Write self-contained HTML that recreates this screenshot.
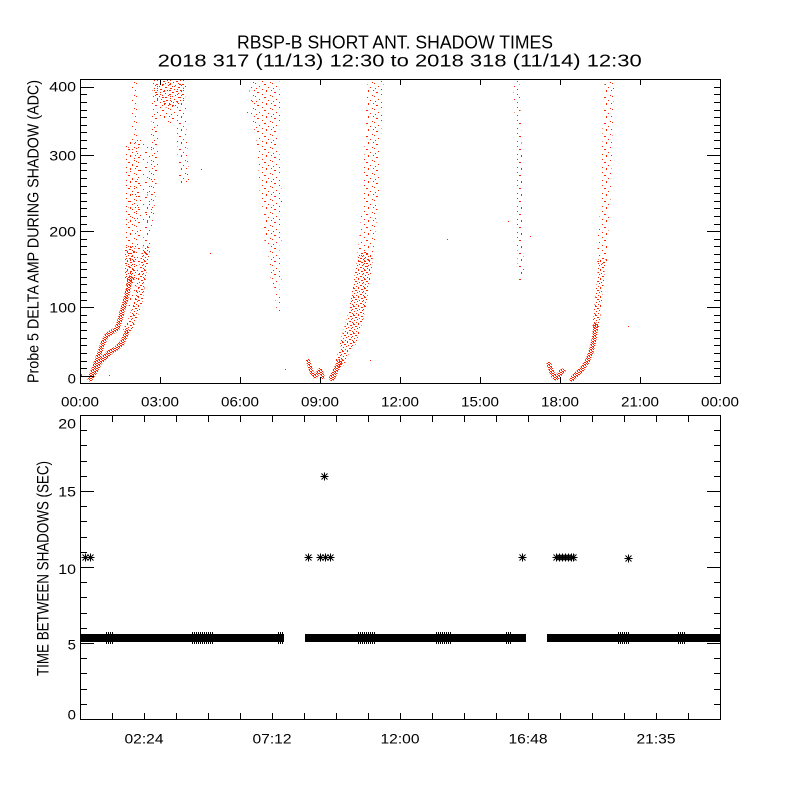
<!DOCTYPE html>
<html><head><meta charset="utf-8">
<style>
html,body{margin:0;padding:0;background:#fff;}
svg{display:block;}
text{font-family:"Liberation Sans",sans-serif;fill:#000;}
</style></head><body>
<svg width="800" height="800" viewBox="0 0 800 800" xmlns="http://www.w3.org/2000/svg" xmlns:xlink="http://www.w3.org/1999/xlink">
<defs>
  <pattern id="pd" width="6" height="5" patternUnits="userSpaceOnUse">
    <path shape-rendering="crispEdges" fill="#ff2400" d="M0 0h2v1h-2z M3 0h1v1h-1z M1 1h1v1h-1z M4 1h2v1h-2z M2 2h2v1h-2z M5 2h1v1h-1z M0 3h2v1h-2z M4 3h1v1h-1z M2 4h2v1h-2z M5 4h1v1h-1z"/>
  </pattern>
  <pattern id="pm" width="11" height="9" patternUnits="userSpaceOnUse">
    <path shape-rendering="crispEdges" fill="#ff2400" d="M1 0h2v1h-2z M6 0h1v1h-1z M9 1h2v1h-2z M3 2h2v1h-2z M0 3h1v1h-1z M7 3h1v1h-1z M5 4h1v1h-1z M10 4h1v1h-1z M2 5h1v1h-1z M8 6h2v1h-2z M0 7h1v1h-1z M4 7h1v1h-1z M1 8h1v1h-1z M6 8h1v1h-1z"/>
  </pattern>
  <pattern id="pm2" width="13" height="10" patternUnits="userSpaceOnUse">
    <path shape-rendering="crispEdges" fill="#ff2400" d="M1 0h1v1h-1z M7 1h2v1h-2z M11 0h1v1h-1z M4 2h1v1h-1z M0 4h2v1h-2z M9 3h1v1h-1z M6 5h1v1h-1z M12 5h1v1h-1z M3 6h1v1h-1z M9 7h2v1h-2z M1 8h1v1h-1z M5 9h1v1h-1z"/>
  </pattern>
  <pattern id="ps" width="17" height="13" patternUnits="userSpaceOnUse">
    <path shape-rendering="crispEdges" fill="#ff2400" d="M2 1h2v1h-2z M11 0h1v1h-1z M7 3h1v1h-1z M15 4h1v1h-1z M0 5h1v1h-1z M9 6h2v1h-2z M4 8h1v1h-1z M13 9h1v1h-1z M1 10h1v1h-1z M7 11h1v1h-1z M16 12h1v1h-1z M11 12h1v1h-1z"/>
  </pattern>
  <pattern id="pvs" width="19" height="15" patternUnits="userSpaceOnUse">
    <path shape-rendering="crispEdges" fill="#ff2400" d="M3 1h1v1h-1z M12 2h2v1h-2z M7 5h1v1h-1z M16 6h1v1h-1z M1 8h1v1h-1z M10 9h1v1h-1z M5 12h1v1h-1z M14 12h1v1h-1z M18 14h1v1h-1z"/>
  </pattern>
  <pattern id="pstripe" width="2" height="2" patternUnits="userSpaceOnUse">
    <rect x="0" y="0" width="1" height="2" fill="#000" shape-rendering="crispEdges"/>
  </pattern>
  <clipPath id="clipTop"><rect x="81" y="80" width="639" height="303"/></clipPath>
  <path id="ast" d="M-4 0H4M0 -4V4M-3 -3L3 3M-3 3L3 -3" fill="none" stroke="#000" stroke-width="1"/>
</defs>
<rect x="0" y="0" width="800" height="800" fill="#fff"/>

<!-- Titles -->
<text x="237" y="48.3" font-size="18" textLength="316" lengthAdjust="spacingAndGlyphs">RBSP-B SHORT ANT. SHADOW TIMES</text>
<text x="157.7" y="66.7" font-size="17.5" textLength="484" lengthAdjust="spacingAndGlyphs">2018 317 (11/13) 12:30 to 2018 318 (11/14) 12:30</text>

<!-- Data clouds (top) -->
<g clip-path="url(#clipTop)" fill="none" stroke-linecap="round" stroke-linejoin="round" shape-rendering="crispEdges">
  <!-- Segment A -->
  <path stroke="url(#pd)" stroke-width="5" d="M90 379L95 366L99 355L103 343L107 335L112 332L117 329L120 320L122 312L125 302L128 290L130 278"/>
  <path stroke="url(#pd)" stroke-width="5" d="M91 378L96 370L100 362L105 357L110 352L117 348L122 343L125 337L127 331"/>
  <path stroke="url(#pm)" stroke-width="8" d="M127 331L133 318L138 303L141 285L144 262L146 250"/>
  <path stroke="url(#ps)" stroke-width="8" d="M146 250L147 240L150 215L152 190L154 165L155 140L156 110L157 80"/>
  <path stroke="url(#pm)" stroke-width="10" d="M130 278L130 250"/>
  <path stroke="url(#ps)" stroke-width="12" d="M130 250L131 220L132 190L133 160"/>
  <path stroke="url(#ps)" stroke-width="6" d="M133 160L134 140L134 110L134 80"/>
  <path stroke="url(#ps)" stroke-width="14" d="M133 300L133 145"/>
  <path stroke="url(#pvs)" stroke-width="24" d="M140 220L141 185L140 150"/>
  <path stroke="url(#pm2)" stroke-width="32" d="M170 74L170 92"/>
  <path stroke="url(#ps)" stroke-width="28" d="M170 92L172 110"/>
  <path stroke="url(#ps)" stroke-width="10" d="M180 110L182 140L183 160L184 180"/>
  <!-- Segment B -->
  <path stroke="url(#ps)" stroke-width="30" d="M264 76L266 120"/>
  <path stroke="url(#ps)" stroke-width="22" d="M266 120L269 160L271 200"/>
  <path stroke="url(#ps)" stroke-width="17" d="M271 200L273 240"/>
  <path stroke="url(#ps)" stroke-width="11" d="M273 240L276 280"/>
  <path stroke="url(#ps)" stroke-width="5" d="M276 280L279 310"/>
  <!-- Segment C -->
  <path stroke="url(#pd)" stroke-width="4" d="M308 361L310 367L312 373L315 377L318 373L320 370L322 374L323 377"/>
  <!-- Segment D -->
  <path stroke="url(#pd)" stroke-width="6" d="M332 378L336 370L340 362"/>
  <path stroke="url(#pm)" stroke-width="10" d="M340 362L344 352L348 342"/>
  <path stroke="url(#pm)" stroke-width="16" d="M348 342L352 330L356 315L359 300L362 280L365 260"/>
  <path stroke="url(#ps)" stroke-width="16" d="M365 260L367 240L369 215L371 190L372 165L373 140L374 115L375 95L376 76"/>
  <!-- Segment E -->
  <path stroke="url(#ps)" stroke-width="6" d="M516 76L518 120L519 160L519 200L520 240L521 278"/>
  <!-- Segment F -->
  <path stroke="url(#pd)" stroke-width="5" d="M549 364L551 370L553 375L556 378L559 375L561 372L563 371"/>
  <!-- Segment G -->
  <path stroke="url(#pd)" stroke-width="5" d="M572 379L577 374L582 369L587 362L591 352L594 340L596 325"/>
  <path stroke="url(#pm)" stroke-width="7" d="M596 325L598 305L600 285L602 260"/>
  <path stroke="url(#ps)" stroke-width="10" d="M602 260L603 235L605 210L606 180L607 150L608 120L609 95L610 76"/>
</g>
<!-- stray dots -->
<path fill="#ff2400" shape-rendering="crispEdges" d="M201 169h1v1h-1z M210 253h1v1h-1z M285 369h1v1h-1z M109 375h1v1h-1z M81 374h1v2h-1z M508 221h1v1h-1z M530 236h1v1h-1z M447 239h1v1h-1z M628 326h1v1h-1z M247 112h1v1h-1z M252 101h1v1h-1z M370 360h1v1h-1z"/>

<!-- Bottom band -->
<g fill="#000" shape-rendering="crispEdges">
  <rect x="80" y="634" width="204" height="8"/>
  <rect x="305" y="634" width="221" height="8"/>
  <rect x="547" y="634" width="174" height="8"/>
</g>
<g fill="url(#pstripe)" shape-rendering="crispEdges">
  <rect x="106" y="632" width="8" height="2"/><rect x="106" y="642" width="8" height="2"/>
  <rect x="192" y="632" width="22" height="2"/><rect x="192" y="642" width="22" height="2"/>
  <rect x="278" y="632" width="6" height="2"/><rect x="278" y="642" width="6" height="2"/>
  <rect x="358" y="632" width="18" height="2"/><rect x="358" y="642" width="18" height="2"/>
  <rect x="436" y="632" width="16" height="2"/><rect x="436" y="642" width="16" height="2"/>
  <rect x="506" y="632" width="6" height="2"/><rect x="506" y="642" width="6" height="2"/>
  <rect x="618" y="632" width="12" height="2"/><rect x="618" y="642" width="12" height="2"/>
  <rect x="678" y="632" width="8" height="2"/><rect x="678" y="642" width="8" height="2"/>
</g>
<!-- Asterisks -->
<g>
  <use xlink:href="#ast" href="#ast" x="85.5" y="557.5"/>
  <use xlink:href="#ast" href="#ast" x="90.5" y="557.5"/>
  <use xlink:href="#ast" href="#ast" x="308.5" y="557.5"/>
  <use xlink:href="#ast" href="#ast" x="320.5" y="557.5"/>
  <use xlink:href="#ast" href="#ast" x="325.5" y="557.5"/>
  <use xlink:href="#ast" href="#ast" x="330.5" y="557.5"/>
  <use xlink:href="#ast" href="#ast" x="522.5" y="557.5"/>
  <use xlink:href="#ast" href="#ast" x="556.5" y="557.5"/>
  <use xlink:href="#ast" href="#ast" x="559.5" y="557.5"/>
  <use xlink:href="#ast" href="#ast" x="562.5" y="557.5"/>
  <use xlink:href="#ast" href="#ast" x="565.5" y="557.5"/>
  <use xlink:href="#ast" href="#ast" x="568.5" y="557.5"/>
  <use xlink:href="#ast" href="#ast" x="571.5" y="557.5"/>
  <use xlink:href="#ast" href="#ast" x="573.5" y="557.5"/>
  <use xlink:href="#ast" href="#ast" x="628.5" y="558.5"/>
  <use xlink:href="#ast" href="#ast" x="324.5" y="476.5"/>
</g>

<!-- Frames -->
<rect x="80.5" y="79.5" width="640" height="304" fill="none" stroke="#000" stroke-width="1" shape-rendering="crispEdges"/>
<rect x="80.5" y="415.5" width="640" height="304" fill="none" stroke="#000" stroke-width="1" shape-rendering="crispEdges"/>

<!-- Ticks -->
<g fill="none" stroke="#000" stroke-width="1" shape-rendering="crispEdges">
<path d="M80 376.5h14M80 368.5h7M80 361.5h7M80 353.5h7M80 345.5h7M80 338.5h7M80 330.5h7M80 322.5h7M80 315.5h7M80 307.5h14M80 300.5h7M80 292.5h7M80 284.5h7M80 277.5h7M80 269.5h7M80 262.5h7M80 254.5h7M80 246.5h7M80 239.5h7M80 231.5h14M80 224.5h7M80 216.5h7M80 208.5h7M80 201.5h7M80 193.5h7M80 186.5h7M80 178.5h7M80 170.5h7M80 163.5h7M80 155.5h14M80 148.5h7M80 140.5h7M80 132.5h7M80 125.5h7M80 117.5h7M80 110.5h7M80 102.5h7M80 94.5h7M80 87.5h14"/>
<path d="M714 376.5h7M714 368.5h7M714 361.5h7M714 353.5h7M714 345.5h7M714 338.5h7M714 330.5h7M714 322.5h7M714 315.5h7M707 307.5h14M714 300.5h7M714 292.5h7M714 284.5h7M714 277.5h7M714 269.5h7M714 262.5h7M714 254.5h7M714 246.5h7M714 239.5h7M707 231.5h14M714 224.5h7M714 216.5h7M714 208.5h7M714 201.5h7M714 193.5h7M714 186.5h7M714 178.5h7M714 170.5h7M714 163.5h7M707 155.5h14M714 148.5h7M714 140.5h7M714 132.5h7M714 125.5h7M714 117.5h7M714 110.5h7M714 102.5h7M714 94.5h7M714 87.5h7"/>
<path d="M160.5 377V384M160.5 79V85M240.5 377V384M240.5 79V85M320.5 377V384M320.5 79V85M400.5 377V384M400.5 79V85M480.5 377V384M480.5 79V85M560.5 377V384M560.5 79V85M640.5 377V384M640.5 79V85"/>
<path d="M112.5 713V720M112.5 415V422M144.5 713V720M144.5 415V422M176.5 713V720M176.5 415V422M208.5 713V720M208.5 415V422M240.5 713V720M240.5 415V422M272.5 713V720M272.5 415V422M304.5 713V720M304.5 415V422M336.5 713V720M336.5 415V422M368.5 713V720M368.5 415V422M400.5 713V720M400.5 415V422M432.5 713V720M432.5 415V422M464.5 713V720M464.5 415V422M496.5 713V720M496.5 415V422M528.5 713V720M528.5 415V422M560.5 713V720M560.5 415V422M592.5 713V720M592.5 415V422M624.5 713V720M624.5 415V422M656.5 713V720M656.5 415V422M688.5 713V720M688.5 415V422"/>
<path d="M80 704.5h7M80 689.5h7M80 673.5h7M80 658.5h7M80 643.5h14M80 628.5h7M80 613.5h7M80 597.5h7M80 582.5h7M80 567.5h14M80 552.5h7M80 537.5h7M80 521.5h7M80 506.5h7M80 491.5h14M80 476.5h7M80 461.5h7M80 445.5h7M80 430.5h7"/>
<path d="M714 704.5h7M714 689.5h7M714 673.5h7M714 658.5h7M707 643.5h14M714 628.5h7M714 613.5h7M714 597.5h7M714 582.5h7M707 567.5h14M714 552.5h7M714 537.5h7M714 521.5h7M714 506.5h7M707 491.5h14M714 476.5h7M714 461.5h7M714 445.5h7M714 430.5h7"/>
</g>

<!-- Top y-axis labels -->
<g font-size="14">
<text x="49.3" y="91.5" textLength="26.7" lengthAdjust="spacingAndGlyphs">400</text>
<text x="49.3" y="160.5" textLength="26.7" lengthAdjust="spacingAndGlyphs">300</text>
<text x="49.3" y="236.5" textLength="26.7" lengthAdjust="spacingAndGlyphs">200</text>
<text x="49.3" y="312.5" textLength="26.7" lengthAdjust="spacingAndGlyphs">100</text>
<text x="67.7" y="383.3" textLength="8.3" lengthAdjust="spacingAndGlyphs">0</text>
</g>

<!-- Top x-axis labels -->
<g font-size="14">
<text x="61" y="406.7" textLength="38" lengthAdjust="spacingAndGlyphs">00:00</text>
<text x="141" y="406.7" textLength="38" lengthAdjust="spacingAndGlyphs">03:00</text>
<text x="221" y="406.7" textLength="38" lengthAdjust="spacingAndGlyphs">06:00</text>
<text x="301" y="406.7" textLength="38" lengthAdjust="spacingAndGlyphs">09:00</text>
<text x="381" y="406.7" textLength="38" lengthAdjust="spacingAndGlyphs">12:00</text>
<text x="461" y="406.7" textLength="38" lengthAdjust="spacingAndGlyphs">15:00</text>
<text x="541" y="406.7" textLength="38" lengthAdjust="spacingAndGlyphs">18:00</text>
<text x="621" y="406.7" textLength="38" lengthAdjust="spacingAndGlyphs">21:00</text>
<text x="701" y="406.7" textLength="38" lengthAdjust="spacingAndGlyphs">00:00</text>
</g>

<!-- Bottom y-axis labels -->
<g font-size="14">
<text x="58.3" y="428.3" textLength="17.7" lengthAdjust="spacingAndGlyphs">20</text>
<text x="58.3" y="496.7" textLength="17.7" lengthAdjust="spacingAndGlyphs">15</text>
<text x="58.3" y="574" textLength="17.7" lengthAdjust="spacingAndGlyphs">10</text>
<text x="67.7" y="649.3" textLength="8.3" lengthAdjust="spacingAndGlyphs">5</text>
<text x="67.7" y="719.3" textLength="8.3" lengthAdjust="spacingAndGlyphs">0</text>
</g>

<!-- Bottom x-axis labels -->
<g font-size="14">
<text x="124.5" y="743.3" textLength="39" lengthAdjust="spacingAndGlyphs">02:24</text>
<text x="252.5" y="743.3" textLength="39" lengthAdjust="spacingAndGlyphs">07:12</text>
<text x="380.5" y="743.3" textLength="39" lengthAdjust="spacingAndGlyphs">12:00</text>
<text x="508.5" y="743.3" textLength="39" lengthAdjust="spacingAndGlyphs">16:48</text>
<text x="636.5" y="743.3" textLength="39" lengthAdjust="spacingAndGlyphs">21:35</text>
</g>

<!-- Axis titles -->
<text transform="translate(38.4,383) rotate(-90)" x="0" y="0" font-size="15.5" textLength="303" lengthAdjust="spacingAndGlyphs">Probe 5 DELTA AMP DURING SHADOW (ADC)</text>
<text transform="translate(48.3,676) rotate(-90)" x="0" y="0" font-size="16.5" textLength="215" lengthAdjust="spacingAndGlyphs">TIME BETWEEN SHADOWS (SEC)</text>
</svg>
</body></html>
